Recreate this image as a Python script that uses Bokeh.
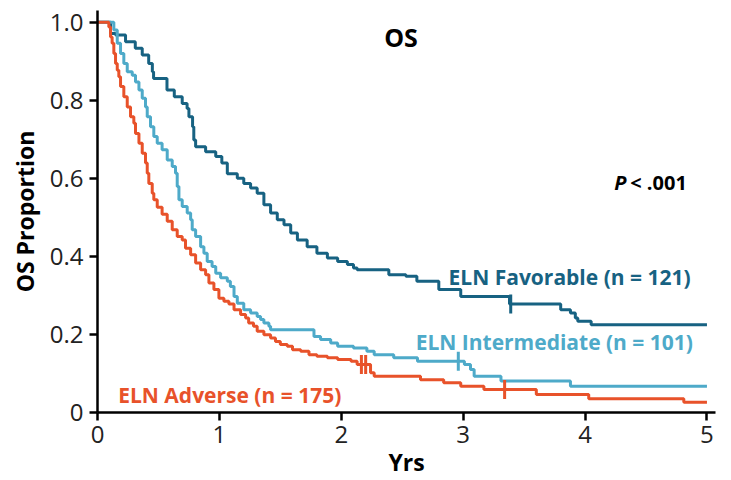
import numpy as np
from bokeh.plotting import figure
from bokeh.models import Range1d, Label, FixedTicker
from bokeh.embed import file_html
from bokeh.resources import INLINE

# Kaplan-Meier overall survival by ELN risk group.
# Each pair (time in years, survival) is the level the curve drops to at that time.
FOLLOW_UP_END = 5.0

fav_t = [0, 0.107, 0.148, 0.23, 0.31, 0.367, 0.42, 0.45, 0.46, 0.57, 0.63, 0.695, 0.735,
         0.75, 0.78, 0.79, 0.805, 0.887, 0.97, 1.02, 1.065, 1.147, 1.20, 1.256, 1.31, 1.365,
         1.42, 1.475, 1.53, 1.585, 1.64, 1.72, 1.80, 1.886, 1.97, 2.05, 2.10, 2.13, 2.39,
         2.53, 2.62, 2.80, 2.98, 3.38, 3.80, 3.88, 3.92, 3.94, 4.05]
fav_s = [1.0, 0.971, 0.967, 0.95, 0.933, 0.916, 0.894, 0.873, 0.856, 0.826, 0.809, 0.792,
         0.779, 0.758, 0.732, 0.698, 0.681, 0.668, 0.656, 0.639, 0.612, 0.60, 0.587, 0.575,
         0.562, 0.532, 0.511, 0.494, 0.481, 0.46, 0.442, 0.425, 0.408, 0.396, 0.387, 0.379,
         0.37, 0.366, 0.353, 0.349, 0.336, 0.315, 0.297, 0.278, 0.263, 0.255, 0.242, 0.234,
         0.225]
fav_cens = [3.39]

int_t = [0, 0.134, 0.162, 0.189, 0.216, 0.244, 0.285, 0.312, 0.34, 0.367, 0.394, 0.408,
         0.435, 0.462, 0.49, 0.53, 0.572, 0.613, 0.64, 0.654, 0.668, 0.695, 0.736, 0.764,
         0.777, 0.805, 0.846, 0.873, 0.90, 0.94, 0.97, 1.01, 1.065, 1.09, 1.12, 1.147, 1.20,
         1.256, 1.31, 1.338, 1.365, 1.406, 1.42, 1.776, 1.83, 1.913, 1.97, 2.10, 2.21, 2.27,
         2.43, 2.625, 3.01, 3.06, 3.09, 3.31, 3.88]
int_s = [1.0, 0.98, 0.946, 0.92, 0.894, 0.873, 0.864, 0.847, 0.826, 0.805, 0.783, 0.758,
         0.732, 0.707, 0.69, 0.673, 0.647, 0.63, 0.613, 0.579, 0.545, 0.528, 0.511, 0.494,
         0.468, 0.451, 0.425, 0.408, 0.387, 0.374, 0.357, 0.345, 0.336, 0.323, 0.297, 0.28,
         0.263, 0.255, 0.246, 0.238, 0.229, 0.221, 0.212, 0.195, 0.187, 0.178, 0.17, 0.165,
         0.157, 0.148, 0.14, 0.131, 0.123, 0.11, 0.093, 0.081, 0.067]
int_cens = [2.96]

adv_t = [0, 0.093, 0.107, 0.12, 0.134, 0.148, 0.162, 0.175, 0.189, 0.216, 0.244, 0.271,
         0.298, 0.312, 0.34, 0.367, 0.394, 0.408, 0.421, 0.449, 0.462, 0.49, 0.53, 0.572,
         0.613, 0.654, 0.695, 0.722, 0.764, 0.805, 0.846, 0.887, 0.914, 0.955, 0.996, 1.037,
         1.078, 1.12, 1.174, 1.215, 1.24, 1.28, 1.31, 1.365, 1.42, 1.46, 1.50, 1.557, 1.60,
         1.667, 1.735, 1.80, 1.886, 1.97, 2.08, 2.13, 2.24, 2.27, 2.65, 2.84, 2.98, 3.17,
         3.60, 4.03, 4.81]
adv_s = [1.0, 0.988, 0.962, 0.946, 0.92, 0.894, 0.877, 0.86, 0.835, 0.809, 0.783, 0.758,
         0.741, 0.715, 0.69, 0.664, 0.639, 0.613, 0.587, 0.562, 0.545, 0.526, 0.508, 0.49,
         0.468, 0.451, 0.442, 0.421, 0.404, 0.383, 0.366, 0.353, 0.332, 0.315, 0.293, 0.285,
         0.278, 0.263, 0.251, 0.242, 0.229, 0.221, 0.208, 0.199, 0.191, 0.182, 0.174, 0.17,
         0.161, 0.157, 0.148, 0.144, 0.14, 0.136, 0.131, 0.123, 0.102, 0.093, 0.084, 0.076,
         0.067, 0.059, 0.046, 0.035, 0.026]
adv_cens = [2.165, 2.20, 3.34]

x_ticks = [0, 1, 2, 3, 4, 5]
y_ticks = [0, 0.2, 0.4, 0.6, 0.8, 1.0]
y_tick_labels = ["0", "0.2", "0.4", "0.6", "0.8", "1.0"]

groups = [
    ("ELN Favorable (n = 121)", fav_t, fav_s, fav_cens, "#176282", 2.88, 0.348),
    ("ELN Intermediate (n = 101)", int_t, int_s, int_cens, "#4eaac9", 2.61, 0.18),
    ("ELN Adverse (n = 175)", adv_t, adv_s, adv_cens, "#e8522a", 0.17, 0.046),
]

FONT = "Open Sans"

p = figure(width=731, height=480, output_backend="svg", toolbar_location=None,
           x_range=Range1d(0, 5.07), y_range=Range1d(0, 1.03),
           min_border_left=97, min_border_right=16, min_border_top=10, min_border_bottom=67)
p.background_fill_color = "white"
p.border_fill_color = "white"
p.outline_line_color = None
p.grid.visible = False


def level_at(times, surv, t):
    idx = np.searchsorted(np.asarray(times), t, side="right") - 1
    return surv[idx]


for name, t, s, cens, color, lx, ly in groups:
    xs = list(t) + [FOLLOW_UP_END]
    ys = list(s) + [s[-1]]
    p.step(xs, ys, mode="after", line_width=3, line_color=color)
    cy = [level_at(t, s, c) for c in cens]
    p.scatter(cens, cy, marker="dash", angle=np.pi / 2, size=19,
              line_width=3, line_color=color)
    p.add_layout(Label(x=lx, y=ly, text=name, text_baseline="middle",
                       text_font=FONT, text_font_style="bold",
                       text_font_size="21px", text_color=color))

p.add_layout(Label(x=2.49, y=0.962, text="OS", text_align="center",
                   text_baseline="middle", text_font=FONT, text_font_style="bold",
                   text_font_size="25px", text_color="black"))
p.add_layout(Label(x=4.24, y=0.59, text="P", text_baseline="middle",
                   text_font=FONT, text_font_style="bold italic",
                   text_font_size="20px", text_color="black"))
p.add_layout(Label(x=4.37, y=0.59, text="< .001", text_baseline="middle",
                   text_font=FONT, text_font_style="bold",
                   text_font_size="20px", text_color="black"))

for ax in (p.xaxis[0], p.yaxis[0]):
    ax.axis_line_width = 2.5
    ax.axis_line_color = "black"
    ax.major_tick_line_width = 2.5
    ax.major_tick_line_color = "black"
    ax.major_tick_out = 8
    ax.major_tick_in = 0
    ax.minor_tick_line_color = None
    ax.major_label_text_font = FONT
    ax.major_label_text_font_size = "24px"
    ax.major_label_text_color = "#222222"
    ax.axis_label_text_font = FONT
    ax.axis_label_text_font_style = "bold"
    ax.axis_label_text_font_size = "23px"
    ax.axis_label_text_color = "black"

p.xaxis.ticker = FixedTicker(ticks=x_ticks)
p.yaxis.ticker = FixedTicker(ticks=y_ticks)
p.yaxis.major_label_overrides = {v: lab for v, lab in zip(y_ticks, y_tick_labels)}
p.xaxis.axis_label = "Yrs"
p.yaxis.axis_label = "OS Proportion"
p.xaxis.major_label_standoff = 5
p.yaxis.major_label_standoff = 6
p.xaxis.axis_label_standoff = 0
p.yaxis.axis_label_standoff = 6

open("out.html", "w").write(file_html(p, INLINE))
